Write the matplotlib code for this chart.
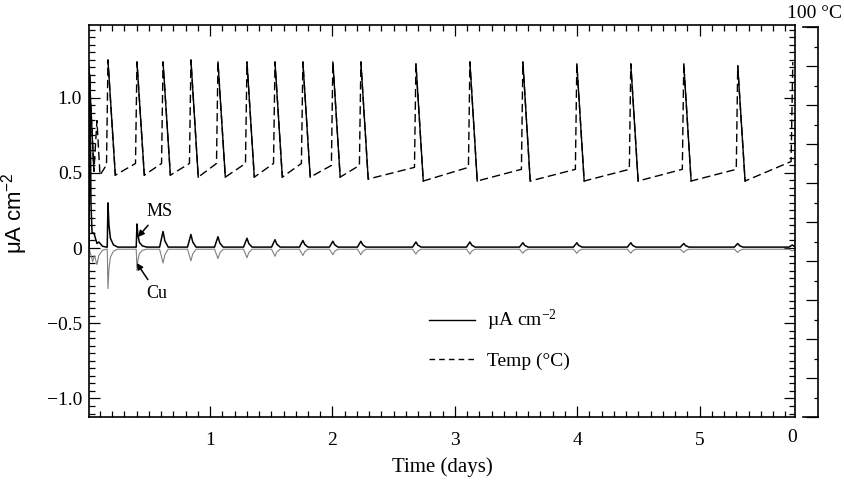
import matplotlib
matplotlib.use('Agg')
import matplotlib.pyplot as plt
from matplotlib.ticker import MultipleLocator, FixedLocator
from matplotlib.lines import Line2D

plt.rcParams['font.family'] = ['Liberation Serif', 'DejaVu Serif']
plt.rcParams['mathtext.fontset'] = 'custom'
plt.rcParams['mathtext.rm'] = 'Liberation Serif'
plt.rcParams['mathtext.it'] = 'Liberation Serif:italic'
plt.rcParams['mathtext.sf'] = 'Liberation Sans'

# ---------------- data ----------------
# heating cycles: time of temperature peak (days)
cycle_t = [0.165, 0.402, 0.615, 0.843, 1.064, 1.301, 1.530, 1.758, 2.003,
           2.232, 2.682, 3.123, 3.556, 3.997, 4.438, 4.871, 5.312]
temp_pre = [64.5, 65.0, 65.0, 65.0, 65.0, 65.0, 65.0, 65.0, 64.5,
            64.5, 64.0, 64.0, 63.5, 63.5, 63.5, 63.5, 63.5]
temp_peak = [91.5, 91.0, 91.0, 91.5, 91.0, 91.0, 91.0, 91.0, 91.0,
             91.0, 90.5, 91.0, 91.0, 90.5, 90.5, 90.5, 90.0]
temp_trough = [62.0, 62.0, 62.0, 61.5, 61.5, 61.5, 61.5, 61.5, 61.5,
               61.0, 60.5, 60.5, 60.5, 60.5, 60.5, 60.5, 60.5]
temp_start_t = [0.01, 0.05, 0.075, 0.10, 0.15]
temp_start_v = [90.0, 63.0, 76.0, 62.0, 64.5]
temp_end_t = [5.748, 5.762]
temp_end_v = [65.5, 91.0]

# current spikes (uA cm-2), one per heating cycle plus a last one
spike_t = cycle_t + [5.758]
ms_amp = [0.30, 0.16, 0.11, 0.09, 0.075, 0.065, 0.055, 0.05, 0.045,
          0.045, 0.04, 0.04, 0.035, 0.035, 0.035, 0.03, 0.03, 0.02]
cu_amp = [-0.27, -0.15, -0.10, -0.085, -0.07, -0.065, -0.055, -0.05, -0.045,
          -0.045, -0.04, -0.04, -0.035, -0.035, -0.035, -0.03, -0.03, -0.02]
ms_start_t = [0.01, 0.018, 0.026, 0.035, 0.05, 0.075, 0.09, 0.12, 0.15]
ms_start_v = [0.0, 1.15, 0.30, 0.10, 0.10, 0.03, 0.04, 0.012, 0.006]
cu_start_t = [0.01, 0.02, 0.04, 0.055, 0.075, 0.09, 0.12, 0.15]
cu_start_v = [0.0, -0.03, -0.09, -0.05, -0.11, -0.05, -0.015, -0.008]
ms_base = 0.006
cu_base = -0.008

x_ticks = [1, 2, 3, 4, 5]
x_labels = ['1', '2', '3', '4', '5']
y_ticks = [-1.0, -0.5, 0.0, 0.5, 1.0]
y_labels = ['\u22121.0', '\u22120.5', '0', '0.5', '1.0']

# spike shapes (offset in days, fraction of amplitude)
sharp_shape = [(-0.006, 0), (0, 1), (0.008, 0.5), (0.02, 0.2), (0.045, 0.05), (0.08, 0)]
round_shape = [(-0.028, 0), (0, 1), (0.015, 0.4), (0.042, 0)]
rise_off = 0.012
fall_off = 0.06

# ---------------- build polylines ----------------
T_t = list(temp_start_t)
T_v = list(temp_start_v)
cool_segments = [((temp_start_t[0], temp_start_t[1]), (temp_start_v[0], temp_start_v[1]))]
for tp, pre, pk, tr in zip(cycle_t, temp_pre, temp_peak, temp_trough):
    T_t += [tp - rise_off, tp, tp + fall_off]
    T_v += [pre, pk, tr]
    cool_segments.append(((tp, tp + fall_off), (pk, tr)))
T_t += temp_end_t
T_v += temp_end_v


def build(start_t, start_v, amps, base):
    xs = list(start_t)
    ys = list(start_v)
    for i, (tp, a) in enumerate(zip(spike_t, amps)):
        shape = sharp_shape if i < 2 else round_shape
        for off, fr in shape:
            xs.append(tp + off)
            ys.append(base + fr * (a - base))
    xs.append(5.80)
    ys.append(base)
    return xs, ys


ms_t, ms_v = build(ms_start_t, ms_start_v, ms_amp, ms_base)
cu_t, cu_v = build(cu_start_t, cu_start_v, cu_amp, cu_base)

# ---------------- figure ----------------
W, H = 845, 487
fig = plt.figure(figsize=(W / 100, H / 100), dpi=100)
ax = fig.add_axes([89 / W, 70 / H, 706 / W, 392 / H])
ax.set_xlim(0.01, 5.78)
ax.set_ylim(-1.123, 1.482)

ax.plot(cu_t, cu_v, color='0.5', lw=0.8, zorder=2)
ax.plot(ms_t, ms_v, color='k', lw=1.1, zorder=3)

ax2 = ax.twinx()
ax2.set_ylim(0, 100.5)
ax2.set_axis_off()
ax2.plot(T_t, T_v, color='k', lw=1.0, dashes=(6, 3))
for (sx, sy) in cool_segments:
    ax2.plot(sx, sy, color='k', lw=1.0)

for s in ax.spines.values():
    s.set_linewidth(1.2)
ax.xaxis.set_major_locator(FixedLocator(x_ticks))
ax.set_xticklabels(x_labels)
ax.xaxis.set_minor_locator(MultipleLocator(0.1))
ax.yaxis.set_major_locator(FixedLocator(y_ticks))
ax.set_yticklabels(y_labels)
ax.yaxis.set_minor_locator(MultipleLocator(0.05))
ax.tick_params(which='both', direction='in', top=True, right=True,
               labelsize=14, width=0.9)
ax.tick_params(which='major', length=8)
ax.tick_params(which='minor', length=4)
ax.tick_params(axis='x', pad=11)
ax.tick_params(axis='y', pad=5)

ax.set_xlabel('Time (days)', fontsize=15, labelpad=6)
ax.set_ylabel(r'$\mathsf{\mu A\ cm^{-2}}$', fontsize=16)
ax.yaxis.set_label_coords(-0.083, 0.52)

# legend
handles = [Line2D([], [], color='k', lw=1.0),
           Line2D([], [], color='k', lw=1.0, dashes=(4, 3))]
ax.legend(handles, ['\u00b5A cm$^{-2}$', 'Temp (\u00b0C)'], loc='upper left',
          bbox_to_anchor=(0.481, 0.278), frameon=False, fontsize=14,
          handlelength=2.4, handletextpad=0.6, labelspacing=1.0,
          borderpad=0, borderaxespad=0)

# annotations
ax.annotate('MS', xy=(0.41, 0.073), xytext=(0.48, 0.24), fontsize=13,
            ha='left', va='center',
            arrowprops=dict(arrowstyle='-|>', color='k', lw=1.1,
                            mutation_scale=9, shrinkA=2, shrinkB=0))
ax.annotate('Cu', xy=(0.40, -0.10), xytext=(0.48, -0.30), fontsize=13,
            ha='left', va='center',
            arrowprops=dict(arrowstyle='-|>', color='k', lw=1.1,
                            mutation_scale=9, shrinkA=2, shrinkB=0))

# temperature bracket axis
bax = fig.add_axes([803 / W, 70 / H, 15 / W, 390 / H])
bax.patch.set_visible(False)
bax.set_xlim(0, 1)
bax.set_ylim(0, 100)
bax.spines['left'].set_visible(False)
for s in ('top', 'bottom', 'right'):
    bax.spines[s].set_linewidth(1.2)
bax.set_xticks([])
bax.yaxis.tick_right()
bax.yaxis.set_major_locator(MultipleLocator(10))
bax.yaxis.set_minor_locator(MultipleLocator(5))
bax.tick_params(axis='y', which='both', direction='in', labelright=False,
                right=True, left=False, width=0.9)
bax.tick_params(axis='y', which='major', length=9)
bax.tick_params(axis='y', which='minor', length=3)

fig.text(842 / W, 1 - 14 / H, '100 \u00b0C', ha='right', va='center', fontsize=14)
fig.text(792 / W, 1 - 437 / H, '0', ha='center', va='center', fontsize=14)

fig.savefig('out.png', dpi=100)
